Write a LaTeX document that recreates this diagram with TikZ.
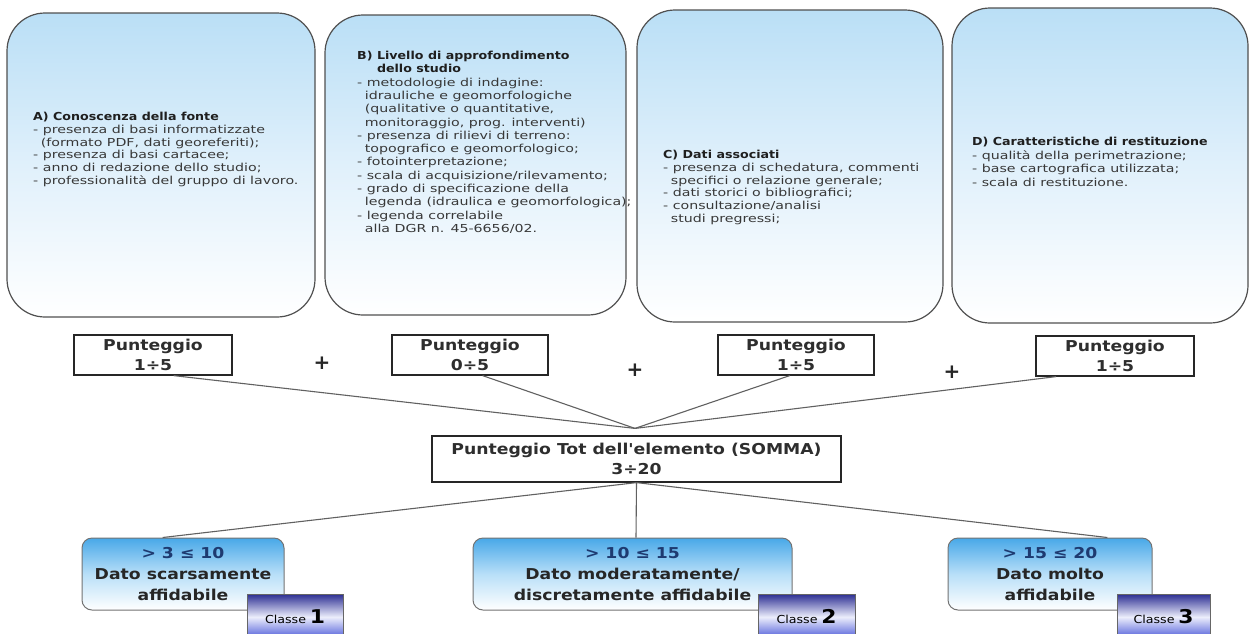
\documentclass[tikz,border=0pt]{standalone}
\usepackage{fontspec}
\setmainfont{DejaVu Sans}
\newfontfamily\bodyf{DejaVu Sans}[FakeStretch=1.29]
\newfontfamily\titlef{DejaVu Sans}[FakeStretch=1.15]
\newfontfamily\bigf{DejaVu Sans}[FakeStretch=1.15]
\usetikzlibrary{calc}
\definecolor{topblue}{RGB}{186,223,246}
\definecolor{midblue}{RGB}{224,240,251}
\definecolor{clsblue}{RGB}{72,168,232}
\definecolor{clsmid}{RGB}{184,223,248}
\definecolor{navy}{RGB}{30,58,112}
\definecolor{badgetop}{RGB}{44,46,146}
\definecolor{badgebot}{RGB}{66,80,214}
\definecolor{badgemid}{RGB}{236,238,252}
\definecolor{edgegray}{RGB}{80,80,80}
\newcommand\boxtitle[1]{{\titlef\bfseries\color{black!88}#1}}
\newcommand\ind{\hspace*{0.7em}}
\begin{document}
\begin{tikzpicture}[x=1pt,y=-1pt,
  topbox/.style={draw=edgegray, line width=1.2pt, rounded corners=38pt,
    top color=topblue, bottom color=white, middle color=midblue, inner sep=0},
  txt/.style={anchor=north west, inner sep=0, align=left,
    font=\fontsize{11}{12.8}\selectfont\bodyf, text=black!78},
  pbox/.style={draw=black!85, line width=1.2pt, fill=white, minimum height=40pt,
    inner sep=0, align=center, font=\fontsize{15}{20}\selectfont\bigf\bfseries, text=black!82},
  cls/.style={draw=black!55, line width=1pt, rounded corners=10pt,
    top color=clsblue, bottom color=white, middle color=clsmid, minimum height=72pt,
    inner sep=0, align=center, font=\fontsize{15}{21}\selectfont\bigf\bfseries, text=black!85},
  badge/.style={draw=black!60, line width=0.8pt, top color=badgetop, bottom color=badgebot,
    middle color=badgemid, minimum height=46pt, inner sep=0, font=\bigf},
  conn/.style={draw=black!62, line width=1.1pt},
  plus/.style={inner sep=0, font=\fontsize{20}{20}\selectfont\bfseries, text=black!85}
]
\useasboundingbox (0,0) rectangle (1250,633);
\clip (0,0) rectangle (1250,633);
\fill[white] (0,0) rectangle (1250,633);

% top boxes
\node[topbox, minimum width=308pt, minimum height=304pt] (A) at (161,165) {};
\node[topbox, minimum width=301pt, minimum height=300pt] (B) at (475.5,165) {};
\node[topbox, minimum width=306pt, minimum height=312pt] (C) at (790,166) {};
\node[topbox, minimum width=296pt, minimum height=315pt] (D) at (1100,165.5) {};

\node[txt] (At) at (33,112) {\boxtitle{A) Conoscenza della fonte}\\
- presenza di basi informatizzate\\
\ind(formato PDF, dati georeferiti);\\
- presenza di basi cartacee;\\
- anno di redazione dello studio;\\
- professionalità del gruppo di lavoro.};

\node[txt, font=\fontsize{11}{13.3}\selectfont\bodyf] (Bt) at (357,51) {\boxtitle{B) Livello di approfondimento}\\
\hspace*{1.8em}\boxtitle{dello studio}\\
- metodologie di indagine:\\
\ind idrauliche e geomorfologiche\\
\ind(qualitative o quantitative,\\
\ind monitoraggio, prog. interventi)\\
- presenza di rilievi di terreno:\\
\ind topografico e geomorfologico;\\
- fotointerpretazione;\\
- scala di acquisizione/rilevamento;\\
- grado di specificazione della\\
\ind legenda (idraulica e geomorfologica);\\
- legenda correlabile\\
\ind alla DGR n. 45-6656/02.};

\node[txt] (Ct) at (663,150) {\boxtitle{C) Dati associati}\\
- presenza di schedatura, commenti\\
\ind specifici o relazione generale;\\
- dati storici o bibliografici;\\
- consultazione/analisi\\
\ind studi pregressi;};

\node[txt, font=\fontsize{11}{13.6}\selectfont\bodyf] (Dt) at (972,137) {\boxtitle{D) Caratteristiche di restituzione}\\
- qualità della perimetrazione;\\
- base cartografica utilizzata;\\
- scala di restituzione.};

% score boxes
\node[pbox, minimum width=158pt] (p1) at (153,355) {Punteggio\\1÷5};
\node[pbox, minimum width=156pt] (p2) at (470,355) {Punteggio\\0÷5};
\node[pbox, minimum width=156pt] (p3) at (796,355) {Punteggio\\1÷5};
\node[pbox, minimum width=158pt] (p4) at (1115,356) {Punteggio\\1÷5};

\node[plus] (pl1) at (322,363) {+};
\node[plus] (pl2) at (635,370) {+};
\node[plus] (pl3) at (952,372) {+};

% total box
\node[pbox, minimum width=409pt, minimum height=46pt] (tot) at (636.5,459)
  {Punteggio Tot dell'elemento (SOMMA)\\3÷20};

\coordinate (conv) at ($(tot.north)+(-1.5,-7)$);
\coordinate (o1) at ($(p1.south west)!0.63!(p1.south east)$);
\coordinate (o2) at ($(p2.south west)!0.58!(p2.south east)$);
\coordinate (o3) at ($(p3.south west)!0.46!(p3.south east)$);
\coordinate (o4) at ($(p4.south west)!0.13!(p4.south east)$);
\draw[conn] (o1) -- (conv);
\draw[conn] (o2) -- (conv);
\draw[conn] (o3) -- (conv);
\draw[conn] (o4) -- (conv);

% class boxes
\node[cls, minimum width=202pt] (c1) at (183,574)
  {{\color{navy}> 3 ≤ 10}\\Dato scarsamente\\affidabile};
\node[cls, minimum width=319pt] (c2) at (632.5,574)
  {{\color{navy}> 10 ≤ 15}\\Dato moderatamente/\\discretamente affidabile};
\node[cls, minimum width=204pt] (c3) at (1050,574)
  {{\color{navy}> 15 ≤ 20}\\Dato molto\\affidabile};

\coordinate (i1) at ($(c1.north west)!0.4!(c1.north east)$);
\coordinate (i2) at ($(c2.north west)!0.5!(c2.north east)+(3.5,0)$);
\coordinate (i3) at ($(c3.north west)!0.78!(c3.north east)$);
\draw[conn] (tot.south) -- (i1);
\draw[conn] (tot.south) -- (i2);
\draw[conn] (tot.south) -- (i3);

% badges
\node[badge, minimum width=96pt] (b1) at (295,617)
  {{\fontsize{11}{12}\selectfont Classe} {\fontsize{19}{20}\selectfont\bfseries 1}};
\node[badge, minimum width=97pt] (b2) at (806.5,617)
  {{\fontsize{11}{12}\selectfont Classe} {\fontsize{19}{20}\selectfont\bfseries 2}};
\node[badge, minimum width=93pt] (b3) at (1163.5,617)
  {{\fontsize{11}{12}\selectfont Classe} {\fontsize{19}{20}\selectfont\bfseries 3}};
\end{tikzpicture}
\end{document}
